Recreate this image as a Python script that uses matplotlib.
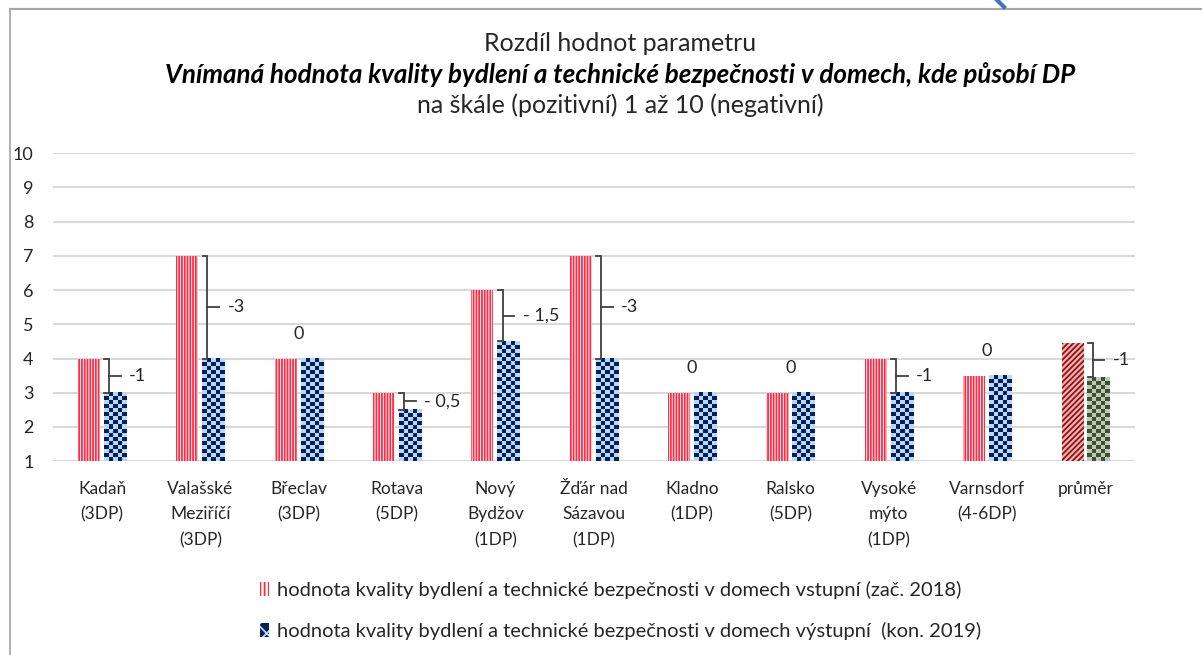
import numpy as np
import matplotlib
matplotlib.use("Agg")
from matplotlib import pyplot as plt
from matplotlib.colors import ListedColormap
from matplotlib.patches import Patch
from matplotlib.lines import Line2D

plt.rcParams['font.family'] = ['Lato', 'DejaVu Sans']
plt.rcParams['hatch.linewidth'] = 1.3

categories = ["Kadaň\n(3DP)", "Valašské\nMeziříčí\n(3DP)", "Břeclav\n(3DP)", "Rotava\n(5DP)",
              "Nový\nBydžov\n(1DP)", "Žďár nad\nSázavou\n(1DP)", "Kladno\n(1DP)", "Ralsko\n(5DP)",
              "Vysoké\nmýto\n(1DP)", "Varnsdorf\n(4-6DP)", "průměr"]
vstup = [4, 7, 4, 3, 6, 7, 3, 3, 4, 3.5, 4.45]
vystup = [3, 4, 4, 2.5, 4.5, 4, 3, 3, 3, 3.5, 3.45]
diff_labels = ["-1", "-3", "0", "- 0,5", "- 1,5", "-3", "0", "0", "-1", "0", "-1"]
yticks = [1, 2, 3, 4, 5, 6, 7, 8, 9, 10]

legend_labels = ["hodnota kvality bydlení a technické bezpečnosti v domech vstupní (zač. 2018)",
                 "hodnota kvality bydlení a technické bezpečnosti v domech výstupní  (kon. 2019)"]

RED = '#ff2a45'
NAVY = '#002060'
LIGHT_BLUE = '#bdd7ee'
DARK_RED = '#c00000'
GREEN = '#375623'
GRAY = '#c4c4c4'
TXT = '#262626'


def checker(ax, rect, dark, light, cell_x=0.041, cell_y=0.117):
    x0, y0 = rect.get_x(), rect.get_y()
    w, h = rect.get_width(), rect.get_height()
    nc = max(1, int(round(w / cell_x)))
    nr = max(1, int(round(h / cell_y)))
    arr = np.indices((nr, nc)).sum(axis=0) % 2
    ax.imshow(arr, cmap=ListedColormap([light, dark]), extent=[x0, x0 + w, y0, y0 + h],
              origin='upper', interpolation='nearest', aspect='auto', zorder=3)


def main():
    fig = plt.figure(figsize=(12.02, 6.55), dpi=100)
    ax = fig.add_axes([0.044, 0.296, 0.900, 0.470])

    x = np.arange(len(categories))
    bw = 0.224
    off = 0.132
    base = 1

    red_bars = ax.bar(x - off, np.array(vstup) - base, bw, bottom=base, color='white',
                      edgecolor=RED, linewidth=0, hatch='||||||', zorder=2)
    # average bar: diagonal dark red stripes
    red_bars[-1].set_facecolor(GRAY)
    red_bars[-1].set_edgecolor(DARK_RED)
    red_bars[-1].set_hatch('//////')

    blue_bars = ax.bar(x + off, np.array(vystup) - base, bw, bottom=base, color=LIGHT_BLUE,
                       linewidth=0, zorder=2)
    for i, rect in enumerate(blue_bars):
        if i == len(blue_bars) - 1:
            checker(ax, rect, GREEN, GRAY)
        else:
            checker(ax, rect, NAVY, LIGHT_BLUE)

    # brackets with differences
    for i in range(len(categories)):
        r, b = vstup[i], vystup[i]
        if r == b:
            ax.annotate(diff_labels[i], (x[i], r), xytext=(0, 12), textcoords='offset points',
                        ha='center', va='bottom', fontsize=13, color=TXT)
            continue
        xv = x[i] + off - 0.06
        mid = (r + b) / 2
        ax.plot([xv - 0.05, xv, xv, xv - 0.05], [r, r, b, b], color='#404040', lw=1.3, zorder=4,
                solid_joinstyle='miter')
        ax.plot([xv, xv + 0.12], [mid, mid], color='#404040', lw=1.3, zorder=4)
        ax.annotate(diff_labels[i], (xv + 0.12, mid), xytext=(6, 0), textcoords='offset points',
                    ha='left', va='center', fontsize=13, color=TXT)

    ax.set_xlim(-0.5, len(categories) - 0.5)
    ax.set_ylim(1, 10)
    ax.set_yticks(yticks)
    ax.set_xticks(x)
    ax.set_xticklabels(categories, fontsize=12.5, color=TXT, linespacing=1.75, va='top')
    ax.tick_params(axis='both', length=0, colors=TXT)
    ax.tick_params(axis='y', labelsize=13, pad=14)
    ax.tick_params(axis='x', pad=14)
    ax.grid(axis='y', color='#d9d9d9', lw=1.5, zorder=0)
    ax.set_axisbelow(True)
    for s in ax.spines.values():
        s.set_visible(False)

    # titles
    fig.text(0.516, 0.933, "Rozdíl hodnot parametru", ha='center', va='center',
             fontsize=18, color=TXT)
    fig.text(0.516, 0.886, "Vnímaná hodnota kvality bydlení a technické bezpečnosti v domech, kde působí DP",
             ha='center', va='center', fontsize=18.7, fontweight='bold', fontstyle='italic', color='black')
    fig.text(0.516, 0.840, "na škále (pozitivní) 1 až 10 (negativní)", ha='center', va='center',
             fontsize=18, color=TXT)

    handles = [Patch(facecolor='white', edgecolor=RED, hatch='||||', linewidth=0),
               Patch(facecolor=NAVY, edgecolor=LIGHT_BLUE, hatch='xx', linewidth=0)]
    fig.legend(handles, legend_labels, loc='upper left', bbox_to_anchor=(0.216, 0.113),
               frameon=False, fontsize=14.5, handlelength=0.45, handleheight=0.7,
               handletextpad=0.4, labelspacing=1.15, labelcolor=TXT, borderaxespad=0,
               borderpad=0)

    # chart frame and stray shape at top
    fig.add_artist(Line2D([10 / 1202, 10 / 1202], [0, 1 - 9 / 655], color='#a6a6a6', lw=1.2,
                          transform=fig.transFigure))
    fig.add_artist(Line2D([10 / 1202, 1], [1 - 9 / 655, 1 - 9 / 655], color='#a6a6a6', lw=1.5,
                          transform=fig.transFigure))
    fig.add_artist(Line2D([997 / 1202, 1004 / 1202], [1.0, 1 - 7 / 655], color='#4472c4', lw=3,
                          transform=fig.transFigure))

    fig.savefig("out.png", dpi=100)


if __name__ == "__main__":
    main()
